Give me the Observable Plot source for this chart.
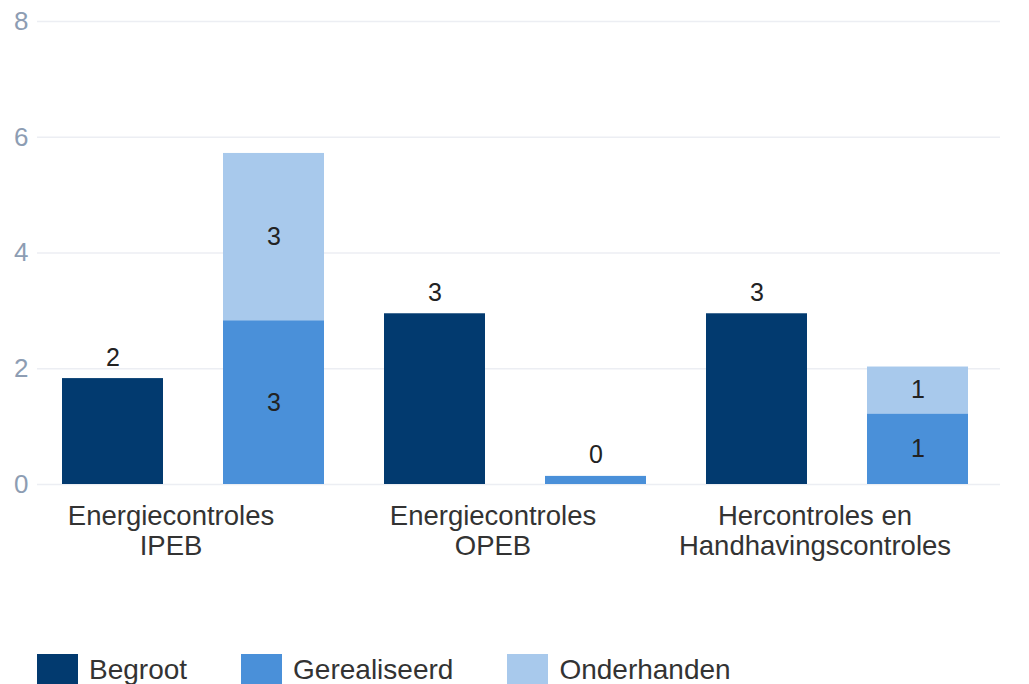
<!DOCTYPE html>
<html><head><meta charset="utf-8">
<script src="https://cdn.jsdelivr.net/npm/d3@7"></script>
<script src="https://cdn.jsdelivr.net/npm/@observablehq/plot@0.6"></script>
<style>
body{margin:0;background:#fff;font-family:"Liberation Sans",Arial,sans-serif;}
#legend{display:flex;height:31px;align-items:center;padding-left:37px;}
.item{display:flex;align-items:center;margin-right:54px;}
.sw{width:41px;height:31px;margin-right:11px;}
.lab{font-size:28px;line-height:31px;color:#333;}
</style></head><body><div id="chart"></div><div id="legend"></div>
<script>
const groups = ["Energiecontroles\nIPEB", "Energiecontroles\nOPEB", "Hercontroles en\nHandhavingscontroles"];
const series = ["Begroot", "Gerealiseerd", "Onderhanden"];
const begroot = [1.83, 2.95, 2.95];
const gerealiseerd = [2.83, 0.14, 1.22];
const onderhanden = [2.89, 0, 0.81];
const yTicks = [0, 2, 4, 6, 8];
const colors = ["#023a6f", "#4a90d9", "#a8c9ec"];

const keys = [];
const rows = [];
groups.forEach((g, i) => {
  const kb = i + "-B", kr = i + "-R";
  keys.push(kb, kr);
  rows.push({bar: kb, series: "Begroot", y1: 0, y2: begroot[i], v: begroot[i]});
  rows.push({bar: kr, series: "Gerealiseerd", y1: 0, y2: gerealiseerd[i], v: gerealiseerd[i]});
  rows.push({bar: kr, series: "Onderhanden", y1: gerealiseerd[i], y2: gerealiseerd[i] + onderhanden[i], v: onderhanden[i]});
});
const labelled = rows.filter(r => r.v > 0);
const above = labelled.filter(r => r.series === "Begroot" || r.v < 0.5);
const inside = labelled.filter(r => !above.includes(r));
const groupLabels = groups.map((g, i) => ({key: i + "-B", label: g}));

const chart = Plot.plot({
  width: 1029, height: 654,
  marginLeft: 37, marginRight: 29, marginTop: 21, marginBottom: 170,
  x: {domain: keys, paddingInner: 0.373, paddingOuter: 0.176, align: 0.44, axis: null},
  y: {domain: [0, 8], axis: null},
  color: {domain: series, range: colors},
  style: {fontFamily: '"Liberation Sans", Arial, sans-serif', background: "#fff"},
  marks: [
    Plot.gridY(yTicks, {stroke: "#eceef3", strokeOpacity: 1, strokeWidth: 1.5}),
    Plot.text(yTicks, {y: d => d, text: d => String(d), frameAnchor: "left", textAnchor: "end", dx: -9, fontSize: 26, fill: "#8d9db3"}),
    Plot.barY(rows, {x: "bar", y1: "y1", y2: "y2", fill: "series"}),
    Plot.text(above, {x: "bar", y: "y2", text: d => Math.round(d.v), lineAnchor: "bottom", dy: -13, fontSize: 25, fill: "#222"}),
    Plot.text(inside, {x: "bar", y: d => (d.y1 + d.y2) / 2, text: d => Math.round(d.v), lineAnchor: "middle", fontSize: 25, fill: "#222"}),
    Plot.text(groupLabels, {x: "key", y: () => 0, text: "label", lineAnchor: "top", dy: 19, dx: 58, fontSize: 27.5, lineHeight: 1.09, fill: "#333"})
  ]
});
document.getElementById("chart").appendChild(chart);

const legend = document.getElementById("legend");
series.forEach((s, i) => {
  const it = document.createElement("div");
  it.className = "item";
  it.innerHTML = `<div class="sw" style="background:${colors[i]}"></div><span class="lab">${s}</span>`;
  legend.appendChild(it);
});
</script></body></html>
